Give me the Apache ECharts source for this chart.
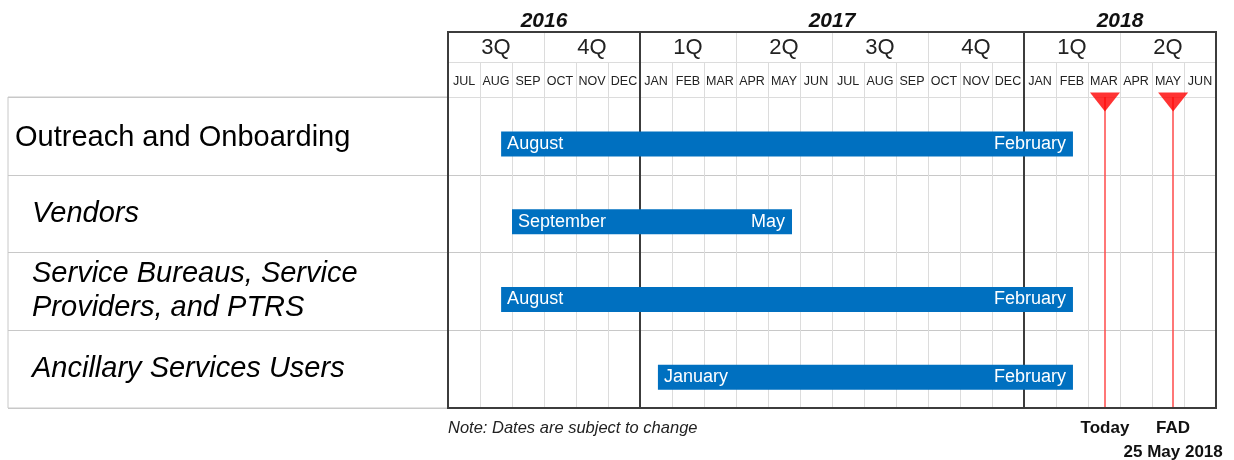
<!DOCTYPE html>
<html>
<head>
<meta charset="utf-8">
<script src="https://cdn.jsdelivr.net/npm/echarts@6/dist/echarts.min.js"></script>
<style>
  html, body { margin: 0; background: #fff; }
  #chart { width: 1234px; height: 460px; }
</style>
</head>
<body>
<div id="chart"></div>
<script>
// timeline runs in months counted from 1 Jul 2016
const years = ['2016', '2017', '2018'];
const yearMonths = [6, 12, 6];
const quarters = ['3Q', '4Q', '1Q', '2Q', '3Q', '4Q', '1Q', '2Q'];
const months = ['JUL', 'AUG', 'SEP', 'OCT', 'NOV', 'DEC', 'JAN', 'FEB', 'MAR', 'APR', 'MAY', 'JUN',
  'JUL', 'AUG', 'SEP', 'OCT', 'NOV', 'DEC', 'JAN', 'FEB', 'MAR', 'APR', 'MAY', 'JUN'];

const tasks = ['Outreach and Onboarding', 'Vendors', 'Service Bureaus, Service\nProviders, and PTRS', 'Ancillary Services Users'];
const taskStart = [1.66, 2.0, 1.66, 6.56];
const taskEnd = [19.53, 10.75, 19.53, 19.53];
const startLabels = ['August', 'September', 'August', 'January'];
const endLabels = ['February', 'May', 'February', 'February'];

const milestones = [20.53, 22.66];
const milestoneLabels = ['Today', 'FAD\n25 May 2018'];

const FONT = '"Liberation Sans", Arial, sans-serif';
const DARK = '#3c3c3c';
const LIGHT = '#dcdcdc';
const ROWLINE = '#c8c8c8';

// year boundaries and label centres, from the spans
const yearBounds = [];
const yearCenters = [];
let acc = 0;
yearMonths.forEach((m, i) => {
  yearCenters.push(acc + m / 2);
  acc += m;
  if (i < yearMonths.length - 1) yearBounds.push(acc);
});
const totalMonths = acc;

const chart = echarts.init(document.getElementById('chart'));

const hiddenValue = (gridIndex, extra) => Object.assign({
  type: 'value', gridIndex, show: false, min: 0, max: 1
}, extra || {});

const option = {
  animation: false,
  textStyle: { fontFamily: FONT },
  title: {
    text: 'Note: Dates are subject to change',
    left: 448, top: 420, padding: 0,
    textStyle: { fontSize: 16.5, fontStyle: 'italic', fontWeight: 'normal', color: '#222', fontFamily: FONT }
  },
  grid: [
    // frame round the whole timeline
    { left: 448, right: 18, top: 32, bottom: 52, show: true, borderColor: DARK, borderWidth: 2, z: 10 },
    // quarter row
    { left: 448, right: 18, top: 32, height: 30 },
    // month row
    { left: 448, right: 18, top: 62, height: 35 },
    // body
    { left: 448, right: 18, top: 97, bottom: 52 },
    // task labels
    { left: 8, width: 440, top: 97, bottom: 52, show: true, borderColor: ROWLINE, borderWidth: 1 }
  ],
  xAxis: [
    hiddenValue(0, { max: totalMonths }),
    {
      type: 'value', gridIndex: 1, position: 'top', min: 0, max: totalMonths, interval: 3,
      axisLine: { show: false }, axisTick: { show: false }, splitLine: { show: false },
      axisLabel: {
        margin: 0, fontSize: 21, fontWeight: 'bold', fontStyle: 'italic', color: '#111',
        showMinLabel: true, showMaxLabel: true,
        formatter: v => {
          const i = yearCenters.indexOf(v);
          return i >= 0 ? years[i] : '';
        }
      }
    },
    {
      type: 'category', gridIndex: 1, position: 'bottom', data: quarters, boundaryGap: true,
      axisLine: { show: true, lineStyle: { color: LIGHT, width: 1 } },
      axisTick: { show: false },
      splitLine: { show: true, interval: 0, lineStyle: { color: LIGHT } },
      axisLabel: { inside: true, margin: 3, interval: 0, fontSize: 22, color: '#222' }
    },
    {
      type: 'category', gridIndex: 2, position: 'bottom', data: months, boundaryGap: true,
      axisLine: { show: true, lineStyle: { color: LIGHT, width: 1 } },
      axisTick: { show: false },
      splitLine: { show: true, interval: 0, lineStyle: { color: LIGHT } },
      axisLabel: { inside: true, margin: 9, interval: 0, fontSize: 12.5, color: '#222' }
    },
    {
      type: 'value', gridIndex: 3, min: 0, max: totalMonths, interval: 1,
      axisLine: { show: false }, axisTick: { show: false }, axisLabel: { show: false },
      splitLine: { show: true, lineStyle: { color: LIGHT } }
    },
    hiddenValue(4)
  ],
  yAxis: [
    hiddenValue(0),
    hiddenValue(1),
    hiddenValue(2),
    {
      type: 'value', gridIndex: 3, min: 0, max: tasks.length, interval: 1, inverse: true,
      axisLine: { show: false }, axisTick: { show: false }, axisLabel: { show: false },
      splitLine: { show: true, lineStyle: { color: ROWLINE } }
    },
    {
      type: 'category', gridIndex: 4, data: tasks, inverse: true, boundaryGap: true,
      axisLine: { show: false }, axisTick: { show: false },
      splitLine: { show: true, interval: 0, lineStyle: { color: ROWLINE } },
      axisLabel: {
        inside: true, margin: 7, interval: 0, color: '#000',
        formatter: (v, i) => i === 0
          ? '{a|' + v + '}'
          : v.split('\n').map(s => '{b|' + s + '}').join('\n'),
        rich: {
          a: { fontSize: 29, lineHeight: 34, color: '#000', fontFamily: FONT, padding: [4, 0, 0, 0] },
          b: { fontSize: 29, lineHeight: 34, fontStyle: 'italic', color: '#000', padding: [0, 0, 0, 17], fontFamily: FONT }
        }
      }
    }
  ],
  series: [
    {
      // dark year dividers across header and body
      type: 'custom', name: 'years', xAxisIndex: 0, yAxisIndex: 0, z: 1, silent: true,
      data: yearBounds.map(v => [v]),
      encode: { x: 0 },
      renderItem: (params, api) => {
        const x = api.coord([api.value(0), 0])[0];
        const top = api.coord([0, 1])[1];
        const bottom = api.coord([0, 0])[1];
        return {
          type: 'line',
          shape: { x1: x, y1: top, x2: x, y2: bottom },
          style: { stroke: DARK, lineWidth: 2 }
        };
      }
    },
    {
      type: 'custom', name: 'tasks', xAxisIndex: 4, yAxisIndex: 3, z: 3,
      data: tasks.map((t, i) => [i, taskStart[i], taskEnd[i]]),
      encode: { x: [1, 2], y: 0 },
      renderItem: (params, api) => {
        const row = api.value(0);
        const p1 = api.coord([api.value(1), row + 0.5]);
        const p2 = api.coord([api.value(2), row + 0.5]);
        const h = 25;
        const cy = p1[1] + 8;
        const i = params.dataIndex;
        return {
          type: 'group',
          children: [
            {
              type: 'rect',
              shape: { x: p1[0], y: cy - h / 2, width: p2[0] - p1[0], height: h },
              style: { fill: '#0070c0' }
            },
            {
              type: 'text',
              style: {
                text: startLabels[i], x: p1[0] + 6, y: cy, fill: '#fff',
                fontSize: 18, fontFamily: FONT, align: 'left', verticalAlign: 'middle'
              }
            },
            {
              type: 'text',
              style: {
                text: endLabels[i], x: p2[0] - 7, y: cy, fill: '#fff',
                fontSize: 18, fontFamily: FONT, align: 'right', verticalAlign: 'middle'
              }
            }
          ]
        };
      }
    },
    {
      type: 'scatter', name: 'milestones', xAxisIndex: 4, yAxisIndex: 3, z: 5, clip: false,
      data: milestones.map(v => [v, 0]),
      symbol: 'triangle', symbolRotate: 180, symbolSize: [30, 19], symbolOffset: [0, 5],
      itemStyle: { color: '#ff0000' },
      markLine: {
        silent: true, symbol: ['none', 'none'],
        lineStyle: { color: '#ff4a4a', width: 1.5, type: 'solid' },
        label: {
          show: true, position: 'end', distance: 8,
          fontSize: 17, fontWeight: 'bold', color: '#111', lineHeight: 24, fontFamily: FONT
        },
        data: milestones.map((v, i) => ({ xAxis: v, label: { formatter: milestoneLabels[i] } }))
      }
    }
  ]
};

chart.setOption(option);
</script>
</body>
</html>
